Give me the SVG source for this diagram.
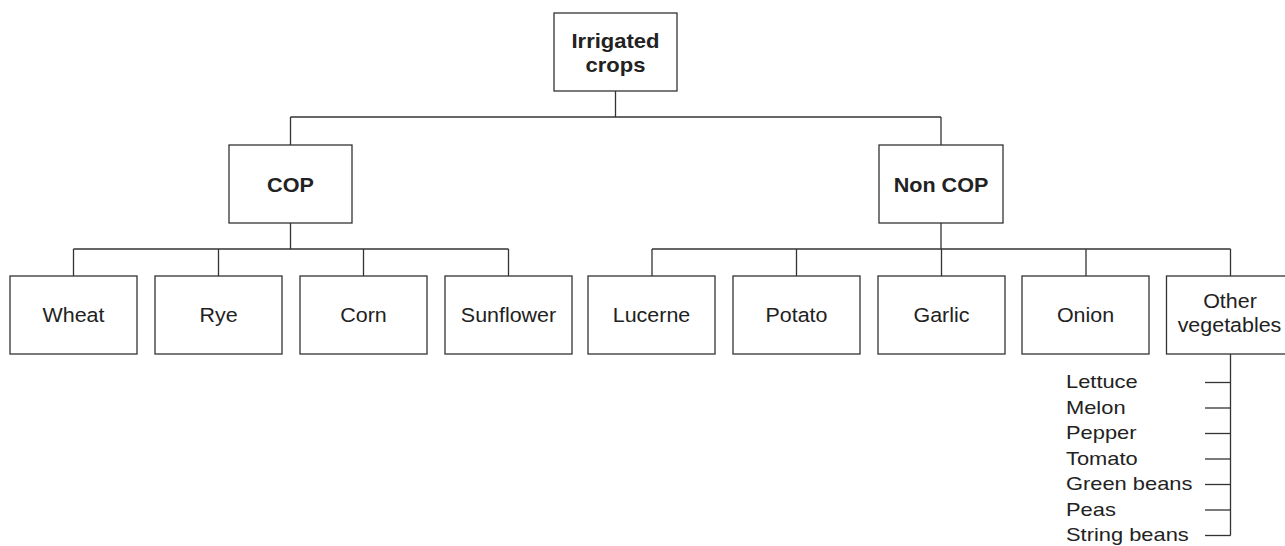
<svg xmlns="http://www.w3.org/2000/svg" width="1285" height="546" viewBox="0 0 1285 546">
<style>
rect{fill:#fff;stroke:#333;stroke-width:1.3}
.c line{stroke:#333;stroke-width:1.3}
text{font-family:"Liberation Sans",Arial,sans-serif;fill:#222}
.b{font-size:20px;font-weight:bold;text-anchor:middle}
.l{font-size:19.5px;text-anchor:middle}
.s{font-size:17.5px}
</style>
<rect width="1285" height="546" style="fill:#fff;stroke:none"/>
<g class="c">
<line x1="615.5" y1="91" x2="615.5" y2="117"/>
<line x1="290.5" y1="117" x2="941" y2="117"/>
<line x1="290.5" y1="117" x2="290.5" y2="145"/>
<line x1="941" y1="117" x2="941" y2="145"/>
<line x1="290.5" y1="223" x2="290.5" y2="249"/>
<line x1="73.5" y1="249" x2="508.5" y2="249"/>
<line x1="73.5" y1="249" x2="73.5" y2="276"/>
<line x1="218.5" y1="249" x2="218.5" y2="276"/>
<line x1="363.5" y1="249" x2="363.5" y2="276"/>
<line x1="508.5" y1="249" x2="508.5" y2="276"/>
<line x1="941" y1="223" x2="941" y2="249"/>
<line x1="652" y1="249" x2="1230.5" y2="249"/>
<line x1="652" y1="249" x2="652" y2="276"/>
<line x1="796.5" y1="249" x2="796.5" y2="276"/>
<line x1="941.5" y1="249" x2="941.5" y2="276"/>
<line x1="1086" y1="249" x2="1086" y2="276"/>
<line x1="1230.5" y1="249" x2="1230.5" y2="276"/>
<line x1="1230.5" y1="354" x2="1230.5" y2="535.5"/>
<line x1="1205" y1="382.5" x2="1230.5" y2="382.5"/>
<line x1="1205" y1="408" x2="1230.5" y2="408"/>
<line x1="1205" y1="433.5" x2="1230.5" y2="433.5"/>
<line x1="1205" y1="459" x2="1230.5" y2="459"/>
<line x1="1205" y1="484.5" x2="1230.5" y2="484.5"/>
<line x1="1205" y1="510" x2="1230.5" y2="510"/>
<line x1="1205" y1="535.5" x2="1230.5" y2="535.5"/>
</g>
<g id="irrigated"><rect x="554" y="13" width="123" height="78"/>
<text class="b" transform="translate(615.5,48) scale(1.1,1)">Irrigated</text>
<text class="b" transform="translate(615.5,71.5) scale(1.1,1)">crops</text></g>
<g id="cop"><rect x="229" y="145" width="123" height="78"/>
<text class="b" transform="translate(290.5,191.5) scale(1.08,1)">COP</text></g>
<g id="noncop"><rect x="879" y="145" width="124" height="78"/>
<text class="b" transform="translate(941,191.5) scale(1.08,1)">Non COP</text></g>
<g id="wheat"><rect x="10" y="276" width="127" height="78"/>
<text class="l" transform="translate(73.5,322.3) scale(1.1,1)">Wheat</text></g>
<g id="rye"><rect x="155" y="276" width="127" height="78"/>
<text class="l" transform="translate(218.5,322.3) scale(1.1,1)">Rye</text></g>
<g id="corn"><rect x="300" y="276" width="127" height="78"/>
<text class="l" transform="translate(363.5,322.3) scale(1.1,1)">Corn</text></g>
<g id="sunflower"><rect x="445" y="276" width="127" height="78"/>
<text class="l" transform="translate(508.5,322.3) scale(1.1,1)">Sunflower</text></g>
<g id="lucerne"><rect x="588" y="276" width="127" height="78"/>
<text class="l" transform="translate(651.5,322.3) scale(1.1,1)">Lucerne</text></g>
<g id="potato"><rect x="733" y="276" width="127" height="78"/>
<text class="l" transform="translate(796.5,322.3) scale(1.1,1)">Potato</text></g>
<g id="garlic"><rect x="878" y="276" width="127" height="78"/>
<text class="l" transform="translate(941.5,322.3) scale(1.1,1)">Garlic</text></g>
<g id="onion"><rect x="1022" y="276" width="127" height="78"/>
<text class="l" transform="translate(1085.5,322.3) scale(1.1,1)">Onion</text></g>
<g id="other"><rect x="1166.5" y="276" width="127" height="78"/>
<text class="l" transform="translate(1230,308) scale(1.1,1)">Other</text>
<text class="l" transform="translate(1229.5,332) scale(1.1,1)">vegetables</text></g>
<g id="list">
<text class="s" transform="translate(1066,388) scale(1.25,1)">Lettuce</text>
<text class="s" transform="translate(1066,413.5) scale(1.25,1)">Melon</text>
<text class="s" transform="translate(1066,439) scale(1.25,1)">Pepper</text>
<text class="s" transform="translate(1066,464.5) scale(1.25,1)">Tomato</text>
<text class="s" transform="translate(1066,490) scale(1.25,1)">Green beans</text>
<text class="s" transform="translate(1066,515.5) scale(1.25,1)">Peas</text>
<text class="s" transform="translate(1066,541) scale(1.25,1)">String beans</text>
</g>
</svg>
